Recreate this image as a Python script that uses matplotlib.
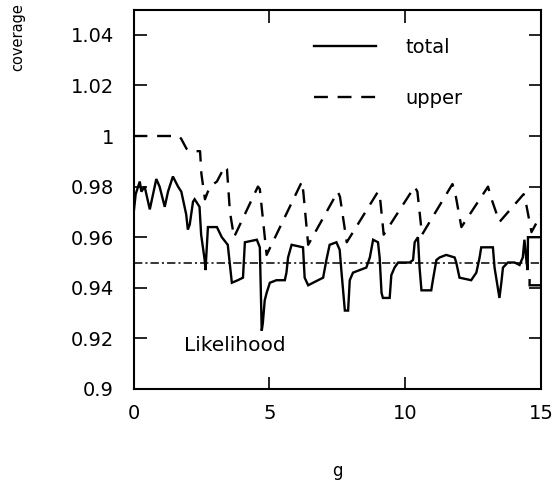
import matplotlib
matplotlib.use("Agg")
import matplotlib.pyplot as plt

plt.rcParams['font.family'] = ['DejaVu Sans']
plt.rcParams['lines.scale_dashes'] = False

# ---- data ----
total_x = [0.00, 0.08, 0.23, 0.29, 0.41, 0.60, 0.84, 0.96, 1.15, 1.27, 1.45, 1.64,
           1.76, 1.94, 2.00, 2.07, 2.19, 2.25, 2.43, 2.49, 2.62, 2.65, 2.74, 3.07,
           3.25, 3.47, 3.62, 3.84, 4.03, 4.10, 4.54, 4.65, 4.72, 4.76, 4.83, 4.90,
           5.02, 5.26, 5.57, 5.63, 5.69, 5.82, 6.24, 6.30, 6.43, 6.61, 6.98, 7.10,
           7.22, 7.47, 7.59, 7.65, 7.78, 7.90, 7.96, 8.08, 8.57, 8.70, 8.82, 9.00,
           9.06, 9.13, 9.18, 9.43, 9.49, 9.61, 9.74, 10.17, 10.29, 10.35, 10.47,
           10.53, 10.60, 10.96, 11.02, 11.15, 11.27, 11.51, 11.82, 11.88, 12.00,
           12.43, 12.62, 12.74, 12.80, 13.23, 13.29, 13.41, 13.47, 13.54, 13.60,
           13.78, 14.03, 14.21, 14.33, 14.39, 14.46, 14.51, 14.52, 15.10, 15.10,
           14.58, 14.58]
total_y = [0.969, 0.977, 0.982, 0.978, 0.980, 0.971, 0.983, 0.980, 0.972, 0.978, 0.984, 0.980,
           0.978, 0.969, 0.963, 0.965, 0.974, 0.975, 0.972, 0.961, 0.951, 0.947, 0.964, 0.964,
           0.960, 0.957, 0.942, 0.943, 0.944, 0.958, 0.959, 0.956, 0.923, 0.926, 0.935, 0.938,
           0.942, 0.943, 0.943, 0.946, 0.952, 0.957, 0.956, 0.944, 0.941, 0.942, 0.944, 0.951,
           0.957, 0.958, 0.955, 0.947, 0.931, 0.931, 0.943, 0.946, 0.948, 0.952, 0.959, 0.958,
           0.952, 0.938, 0.936, 0.936, 0.945, 0.948, 0.950, 0.950, 0.951, 0.958, 0.960,
           0.948, 0.939, 0.939, 0.943, 0.951, 0.952, 0.953, 0.952, 0.950, 0.944,
           0.943, 0.946, 0.952, 0.956, 0.956, 0.948, 0.940, 0.936, 0.942, 0.948,
           0.950, 0.950, 0.949, 0.952, 0.959, 0.951, 0.947, 0.960, 0.960, 0.941,
           0.941, 0.943]

upper_x = [0.00, 1.65, 1.75, 1.95, 2.10, 2.45, 2.50, 2.63, 2.81, 3.07, 3.36, 3.44,
           3.55, 3.70, 4.58, 4.65, 4.90, 6.20, 6.25, 6.43, 7.52, 7.60, 7.85, 9.00,
           9.08, 9.21, 10.35, 10.45, 10.62, 11.74, 11.85, 12.07, 13.05, 13.15, 13.47,
           14.36, 14.42, 14.65, 15.00]
upper_y = [1.000, 1.000, 0.999, 0.995, 0.994, 0.994, 0.985, 0.975, 0.980, 0.982, 0.988, 0.987,
           0.970, 0.960, 0.980, 0.979, 0.953, 0.982, 0.978, 0.957, 0.978, 0.976, 0.958, 0.978,
           0.975, 0.961, 0.980, 0.978, 0.961, 0.981, 0.977, 0.964, 0.980, 0.976, 0.966,
           0.977, 0.975, 0.962, 0.969]

nominal = 0.95
yticks = [0.9, 0.92, 0.94, 0.96, 0.98, 1.0, 1.02, 1.04]
ytick_labels = ['0.9', '0.92', '0.94', '0.96', '0.98', '1', '1.02', '1.04']
xticks = [0, 5, 10, 15]
xtick_labels = ['0', '5', '10', '15']

# ---- figure ----
W, H = 559, 483
fig = plt.figure(figsize=(W / 100, H / 100), dpi=100)
ax = fig.add_axes([133.5 / W, 1 - 389 / H, (541 - 133.5) / W, (389 - 9.5) / H])

ax.plot(total_x, total_y, color='black', lw=1.7, label='total', solid_joinstyle='miter')
ax.plot(upper_x, upper_y, color='black', lw=1.7, dashes=(10, 7), label='upper')
ax.axhline(nominal, color='black', lw=1.1, dashes=(6, 2.2, 1.5, 2.2))

ax.set_xlim(0, 15)
ax.set_ylim(0.9, 1.05)
ax.set_xticks(xticks)
ax.set_xticklabels(xtick_labels)
ax.set_yticks(yticks)
ax.set_yticklabels(ytick_labels)

ax.tick_params(direction='in', length=9, width=1.2, top=True, right=True,
               labelsize=14)
ax.tick_params(axis='y', pad=14)
ax.tick_params(axis='x', pad=11)
for s in ax.spines.values():
    s.set_linewidth(1.5)

ax.set_xlabel('g', fontsize=12, labelpad=28)
fig.text(18 / W, 1 - 3 / H, 'coverage', rotation=90, fontsize=10.5,
         ha='center', va='top')

ax.text(0.125, 0.115, 'Likelihood', transform=ax.transAxes, fontsize=14.5,
        ha='left', va='center')

leg = ax.legend(loc='upper left', bbox_to_anchor=(0.442, 0.925), frameon=False,
                fontsize=14, handlelength=3.2, handletextpad=1.5,
                labelspacing=1.66, borderpad=0, borderaxespad=0)

fig.savefig('out.png', dpi=100)
